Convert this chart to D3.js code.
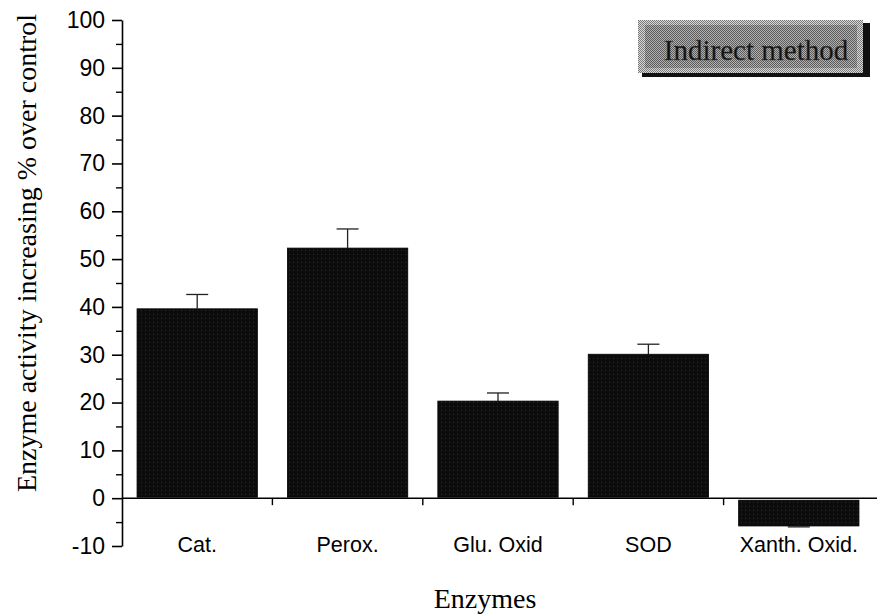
<!DOCTYPE html>
<html>
<head>
<meta charset="utf-8">
<script src="https://cdnjs.cloudflare.com/ajax/libs/d3/7.8.5/d3.min.js"></script>
<style>
  body { margin: 0; background: #fff; }
</style>
</head>
<body>
<div id="chart"></div>
<script>
// values
const enzymes = ["Cat.", "Perox.", "Glu. Oxid", "SOD", "Xanth. Oxid."];
const activity = [39.6, 52.3, 20.3, 30.1, -5.6];
const errors = [3.0, 4.0, 1.7, 2.1, 0.4];
const yTicks = [-10, 0, 10, 20, 30, 40, 50, 60, 70, 80, 90, 100];

const width = 877, height = 614;
const margin = {left: 122, right: 0, top: 20, bottom: 68};
const sans = "Liberation Sans, Arial, sans-serif";
const serif = "Liberation Serif, Times New Roman, serif";

var svg = d3.select("#chart").append("svg")
  .attr("width", width)
  .attr("height", height);

// grainy fill for the bars, dithered greys for the legend box
var defs = svg.append("defs");
var grain = defs.append("pattern").attr("id", "grain")
  .attr("width", 4).attr("height", 4).attr("patternUnits", "userSpaceOnUse");
grain.append("rect").attr("width", 4).attr("height", 4).attr("fill", "#0c0c0c");
grain.append("rect").attr("x", 1).attr("y", 2).attr("width", 1).attr("height", 1).attr("fill", "#2a2a2a");

function ditherPattern(id, light, dark) {
  var p = defs.append("pattern").attr("id", id)
    .attr("width", 2).attr("height", 2).attr("patternUnits", "userSpaceOnUse");
  p.append("rect").attr("width", 2).attr("height", 2).attr("fill", light);
  p.append("rect").attr("width", 1).attr("height", 1).attr("fill", dark);
  p.append("rect").attr("x", 1).attr("y", 1).attr("width", 1).attr("height", 1).attr("fill", dark);
}
ditherPattern("ditherLight", "#d8d8d8", "#7a7a7a");
ditherPattern("ditherFace", "#b0b0b0", "#5c5c5c");

var x = d3.scaleBand()
  .domain(enzymes)
  .range([margin.left, width - 3])
  .paddingInner(0.2)
  .paddingOuter(0.1);

var y = d3.scaleLinear()
  .domain([-10, 100])
  .range([height - margin.bottom, margin.top]);

// bars
svg.selectAll(".bar").data(enzymes).enter().append("rect")
  .attr("class", "bar")
  .attr("x", (d) => x(d))
  .attr("width", x.bandwidth())
  .attr("y", (d, i) => activity[i] >= 0 ? y(activity[i]) : y(0) + 2)
  .attr("height", (d, i) => Math.abs(y(activity[i]) - y(0)) - 1)
  .attr("fill", "url(#grain)")
  .attr("stroke", "#000")
  .attr("stroke-width", 0.8);

// error bars (outward only)
var errEnd = (i) => activity[i] >= 0 ? y(activity[i] + errors[i]) : y(activity[i] - errors[i]);
var errG = svg.selectAll(".err").data(enzymes).enter().append("g")
  .attr("class", "err")
  .attr("stroke", "#222")
  .attr("stroke-width", 1.3);
errG.append("line")
  .attr("x1", (d) => x(d) + x.bandwidth() / 2)
  .attr("x2", (d) => x(d) + x.bandwidth() / 2)
  .attr("y1", (d, i) => y(activity[i]))
  .attr("y2", (d, i) => errEnd(i));
errG.append("line")
  .attr("x1", (d) => x(d) + x.bandwidth() / 2 - 11)
  .attr("x2", (d) => x(d) + x.bandwidth() / 2 + 11)
  .attr("y1", (d, i) => errEnd(i))
  .attr("y2", (d, i) => errEnd(i));

// y axis with minor ticks
var yAxis = svg.append("g")
  .attr("transform", "translate(" + margin.left + ",0)")
  .call(d3.axisLeft(y).tickValues(yTicks).tickSize(10).tickPadding(7)
    .tickSizeOuter(0).tickFormat((d) => String(d)));
yAxis.selectAll(".tick text")
  .attr("font-family", sans).attr("font-size", 23).attr("fill", "#000");
yAxis.select(".domain").attr("stroke-width", 1.6);
yAxis.selectAll(".tick line").attr("stroke-width", 1.6);
svg.append("g")
  .attr("transform", "translate(" + margin.left + ",0)")
  .call(d3.axisLeft(y).tickValues(d3.range(-5, 100, 10)).tickSize(6).tickFormat(""))
  .call((g) => g.select(".domain").remove())
  .selectAll("line").attr("stroke-width", 1.4);

// x axis along zero, ticks at the category boundaries
var step = x.step();
var bounds = enzymes.slice(1).map((d) => x(d) - step * x.paddingInner() / 2);
var xAxis = svg.append("g").attr("transform", "translate(0," + y(0) + ")");
xAxis.append("line")
  .attr("x1", margin.left).attr("x2", width)
  .attr("stroke", "#000").attr("stroke-width", 1.6);
xAxis.selectAll(".xt").data(bounds).enter().append("line")
  .attr("x1", (d) => d).attr("x2", (d) => d)
  .attr("y1", 0).attr("y2", 7)
  .attr("stroke", "#000").attr("stroke-width", 1.4);
xAxis.selectAll(".xl").data(enzymes).enter().append("text")
  .attr("x", (d) => x(d) + x.bandwidth() / 2)
  .attr("y", 54)
  .attr("text-anchor", "middle")
  .attr("font-family", sans)
  .attr("font-size", 21.5)
  .text((d) => d);

// axis titles
svg.append("text")
  .attr("transform", "translate(36,253) rotate(-90)")
  .attr("text-anchor", "middle")
  .attr("font-family", serif)
  .attr("font-size", 28)
  .text("Enzyme activity increasing % over control");
svg.append("text")
  .attr("x", 485)
  .attr("y", 608)
  .attr("text-anchor", "middle")
  .attr("font-family", serif)
  .attr("font-size", 28)
  .text("Enzymes");

// legend box with bevel and drop shadow
var leg = svg.append("g").attr("transform", "translate(638,20)");
leg.append("rect").attr("x", 4).attr("y", 3).attr("width", 228).attr("height", 54).attr("fill", "#111");
leg.append("rect").attr("width", 225).attr("height", 53).attr("fill", "url(#ditherLight)");
leg.append("rect").attr("x", 7).attr("y", 5).attr("width", 212).attr("height", 43)
  .attr("fill", "url(#ditherFace)");
leg.append("text")
  .attr("x", 118).attr("y", 40)
  .attr("text-anchor", "middle")
  .attr("font-family", serif)
  .attr("font-size", 29)
  .attr("fill", "#111")
  .attr("stroke", "#444")
  .attr("stroke-width", 0.4)
  .text("Indirect method");
</script>
</body>
</html>
